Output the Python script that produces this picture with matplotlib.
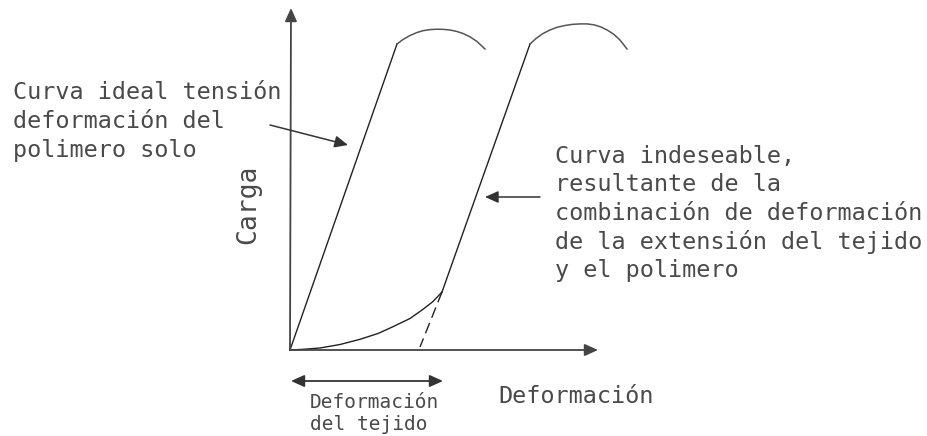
import matplotlib
matplotlib.use("Agg")
import matplotlib.pyplot as plt

# sketch coordinates in pixels (x right, y down)
W, H = 927, 436

# axes of the diagram
origin = (290, 350)
y_axis_top = (291, 8)
x_axis_end = (598, 350)

# ideal curve of the polymer alone
ideal_x = [290, 397]
ideal_y = [350, 44]
ideal_top_x = [397, 403, 410, 417, 423, 430, 437, 444, 450, 457, 463, 470, 477, 485]
ideal_top_y = [44, 39.5, 35.5, 32.5, 30.7, 29.6, 29.2, 29.4, 30, 31.5, 33.5, 36.8, 41.5, 49]

# undesirable curve: fabric toe region, then polymer slope, then the top
toe_x = [290, 303, 320, 340, 360, 378, 393, 410, 423, 433, 442]
toe_y = [350, 349.3, 348, 344.5, 339.3, 333.5, 326.7, 318.5, 309.3, 301.5, 292]
slope_x = [442, 530]
slope_y = [292, 44]
combo_top_x = [530, 536, 543, 550, 557, 565, 572, 580, 587, 594, 601, 608, 614, 620, 627]
combo_top_y = [44, 38.5, 33.5, 30, 27.3, 25.5, 24.4, 23.9, 23.9, 24.8, 27, 30.5, 34.5, 40, 49]
dashed_x = [442, 420]
dashed_y = [292, 347]

# texts
left_lines = ["Curva ideal tensión", "deformación del", "polimero solo"]
right_lines = ["Curva indeseable,", "resultante de la",
               "combinación de deformación", "de la extensión del tejido",
               "y el polimero"]
fabric_lines = ["Deformación", "del tejido"]
x_label = "Deformación"
y_label = "Carga"

font = "DejaVu Sans Mono"
txt_col = "#4a4a4a"
line_col = "#222222"

fig = plt.figure(figsize=(W / 100, H / 100), dpi=100)
ax = fig.add_axes([0, 0, 1, 1])
ax.set_xlim(0, W)
ax.set_ylim(H, 0)
ax.axis("off")


def arrow(start, end, style="-|>", lw=1.3, col="#444444"):
    ax.annotate("", xy=end, xytext=start,
                arrowprops=dict(arrowstyle=style + ",head_length=0.8,head_width=0.36",
                                mutation_scale=10, color=col, lw=lw,
                                shrinkA=0, shrinkB=0))


arrow(origin, y_axis_top)
arrow(origin, x_axis_end)

ax.plot(ideal_x, ideal_y, color=line_col, lw=1.0)
ax.plot(ideal_top_x, ideal_top_y, color="#555555", lw=1.1)
ax.plot(toe_x, toe_y, color=line_col, lw=1.0)
ax.plot(slope_x, slope_y, color=line_col, lw=1.0)
ax.plot(combo_top_x, combo_top_y, color="#555555", lw=1.1)
ax.plot(dashed_x, dashed_y, color=line_col, lw=1.0, dashes=(8, 4))

# pointers from the captions
arrow((270, 125), (348, 145), lw=1.1, col="#333333")
arrow((540, 197), (485, 197), lw=1.1, col="#333333")
# span of the fabric deformation
arrow((291, 381), (443, 381), style="<|-|>", lw=1.3, col="#333333")

for i, s in enumerate(left_lines):
    ax.text(13, 99 + i * 29, s, fontsize=16.9, family=font, color=txt_col,
            ha="left", va="baseline")
for i, s in enumerate(right_lines):
    ax.text(555, 162.5 + i * 28.7, s, fontsize=16.9, family=font, color=txt_col,
            ha="left", va="baseline")
for i, s in enumerate(fabric_lines):
    ax.text(310, 408 + i * 22, s, fontsize=14, family=font, color=txt_col,
            ha="left", va="baseline")

ax.text(498, 403, x_label, fontsize=16.9, family=font, color=txt_col,
        ha="left", va="baseline")
ax.text(255, 204, y_label, fontsize=19, family=font, color=txt_col,
        rotation=90, rotation_mode="anchor", ha="center", va="baseline")

fig.savefig("out.png", dpi=100)
